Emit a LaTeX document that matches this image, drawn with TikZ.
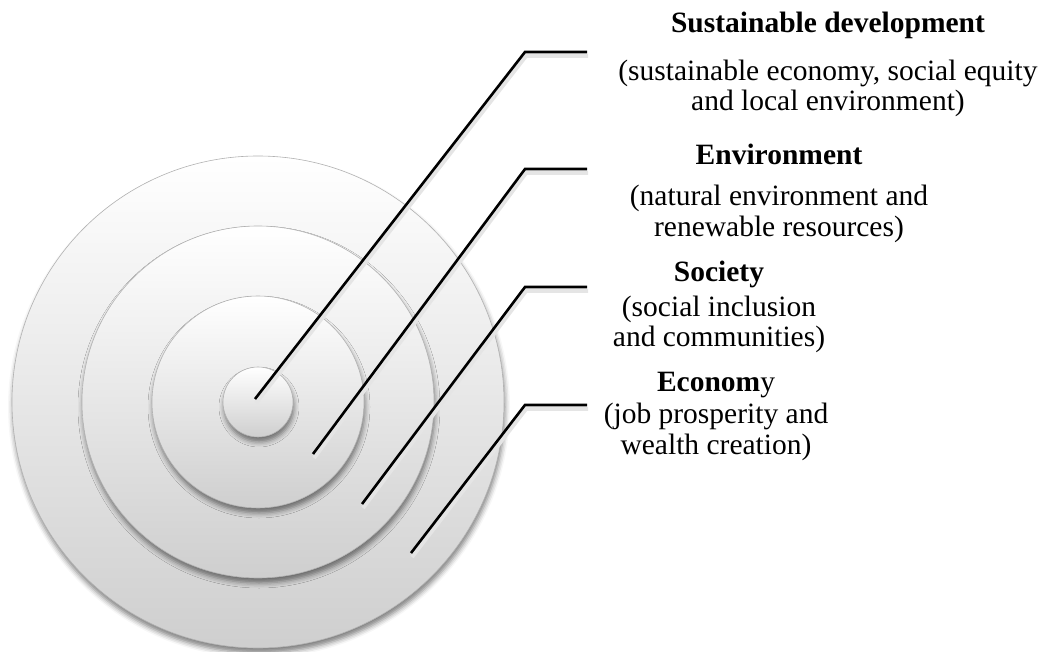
\documentclass[tikz,border=0pt]{standalone}
\usepackage{fontspec}
\setmainfont{Liberation Serif}
\usetikzlibrary{shadows.blur}

\tikzset{
  ring/.style={circle, inner sep=0pt, outer sep=0pt, draw=black!30, line width=0.6pt,
    top color=white, bottom color=black!19,
    blur shadow={shadow xshift=1pt, shadow yshift=-5pt, shadow blur radius=5pt, shadow opacity=50}},
  leader/.style={line width=2.6pt, line join=miter,
    preaction={draw=black!10, line width=4pt, transform canvas={shift={(1pt,-4pt)}}}},
  % base anchor sits on the last line of a label
  label/.style={anchor=base, align=center, font=\fontsize{29.5}{30.5}\selectfont},
}

\begin{document}
\begin{tikzpicture}[x=1pt, y=-1pt]

\useasboundingbox (0, 0) rectangle (1045, 652);

% target rings, biggest first
\node[ring, minimum size=492pt] (economy) at (258, 402) {};
\node[ring, minimum size=352pt] (society) at (258, 402) {};
\node[ring, minimum size=212pt] (environment) at (258, 402) {};
\node[ring, minimum size=70pt] (core) at (258, 402) {};

% where the leaders start
\coordinate (sdfoot) at (255, 399);
\coordinate (envfoot) at (313, 454);
\coordinate (socfoot) at (362, 504);
\coordinate (ecofoot) at (411, 553);

% knees and free ends
\coordinate (sdknee) at (525, 52);   \coordinate (sdend) at (587, 52);
\coordinate (envknee) at (525, 169); \coordinate (envend) at (587, 169);
\coordinate (socknee) at (525, 287); \coordinate (socend) at (587, 287);
\coordinate (ecoknee) at (525, 405); \coordinate (ecoend) at (587, 405);

\draw[leader] (sdfoot) -- (sdknee) -- (sdend);
\draw[leader] (envfoot) -- (envknee) -- (envend);
\draw[leader] (socfoot) -- (socknee) -- (socend);
\draw[leader] (ecofoot) -- (ecoknee) -- (ecoend);

% labels
\node[label] (sdtext) at (828, 111) {\textbf{Sustainable development}\\[17.5pt]
  (sustainable economy, social equity\\ and local environment)};
\node[label] (envtext) at (779, 236.5) {\textbf{Environment}\\[10.5pt]
  (natural environment and\\ renewable resources)};
\node[label] (soctext) at (719, 347) {\textbf{Society}\\[4.5pt]
  (social inclusion\\ and communities)};
\node[label] (ecotext) at (716, 454) {\textbf{Econom}y\\[1.5pt]
  (job prosperity and\\ wealth creation)};

\end{tikzpicture}
\end{document}
